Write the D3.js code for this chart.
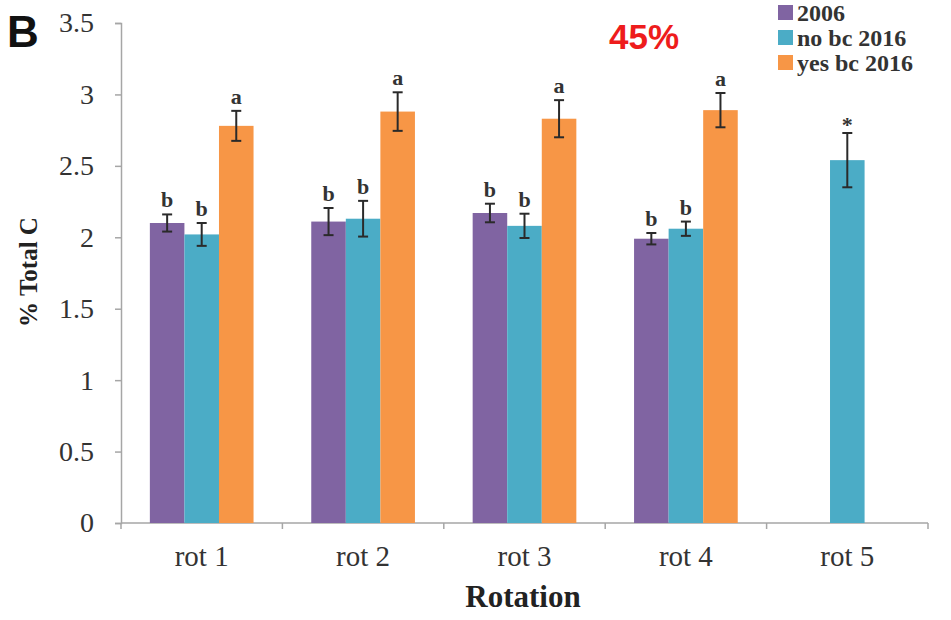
<!DOCTYPE html>
<html>
<head>
<meta charset="utf-8">
<script src="https://cdn.jsdelivr.net/npm/d3@7/dist/d3.min.js"></script>
<style>
  html, body { margin: 0; padding: 0; background: #ffffff; }
  svg { display: block; }
</style>
</head>
<body>
<svg id="chart" width="951" height="620"></svg>
<script>
// Rotation categories and series
const categories = ["rot 1", "rot 2", "rot 3", "rot 4", "rot 5"];
const seriesNames = ["2006", "no bc 2016", "yes bc 2016"];
const seriesColors = ["#8064A2", "#4BACC6", "#F79646"];

// Mean % total C (null = not measured)
const values2006   = [2.10, 2.11, 2.17, 1.99, null];
const valuesNoBc   = [2.02, 2.13, 2.08, 2.06, 2.54];
const valuesYesBc  = [2.78, 2.88, 2.83, 2.89, null];

// Standard errors
const err2006  = [0.06, 0.095, 0.065, 0.04, null];
const errNoBc  = [0.08, 0.125, 0.085, 0.05, 0.19];
const errYesBc = [0.105, 0.135, 0.13, 0.12, null];

// Significance letters
const sig2006  = ["b", "b", "b", "b", null];
const sigNoBc  = ["b", "b", "b", "b", "*"];
const sigYesBc = ["a", "a", "a", "a", null];

const yTicks = [0, 0.5, 1, 1.5, 2, 2.5, 3, 3.5];

const allValues = [values2006, valuesNoBc, valuesYesBc];
const allErrors = [err2006, errNoBc, errYesBc];
const allSig = [sig2006, sigNoBc, sigYesBc];

const svg = d3.select("#chart");
const margin = { left: 121, right: 23, top: 23, bottom: 97 };
const W = 951, H = 620;

const x = d3.scaleBand().domain(categories).range([margin.left, W - margin.right]).paddingInner(0).paddingOuter(0);
const y = d3.scaleLinear().domain([0, 3.5]).range([H - margin.bottom, margin.top]);
const inner = d3.scaleBand().domain(seriesNames).range([0, x.bandwidth()]).paddingInner(0).paddingOuter(0.835);

const serif = "'Liberation Serif', 'Times New Roman', serif";
const sans = "'Liberation Sans', Arial, sans-serif";
const axisColor = "#a6a6a6";

// Y axis
const yAxis = svg.append("g").attr("transform", `translate(${margin.left},0)`)
  .call(d3.axisLeft(y).tickValues(yTicks).tickSize(6).tickPadding(21).tickFormat(d3.format("")));
yAxis.select(".domain").attr("stroke", axisColor).attr("stroke-width", 1.5);
yAxis.selectAll(".tick line").attr("stroke", axisColor).attr("stroke-width", 1.5);
yAxis.selectAll(".tick text").attr("font-family", serif).attr("font-size", 28).attr("fill", "#333");

// X axis with ticks between categories
const xAxisG = svg.append("g").attr("transform", `translate(0,${y(0)})`);
xAxisG.append("line").attr("x1", margin.left).attr("x2", W - margin.right)
  .attr("stroke", axisColor).attr("stroke-width", 1.5);
const boundaries = categories.map(c => x(c)).concat([x(categories[categories.length - 1]) + x.bandwidth()]);
xAxisG.selectAll("line.tk").data(boundaries).join("line").attr("class", "tk")
  .attr("x1", d => d).attr("x2", d => d).attr("y1", 0).attr("y2", 6)
  .attr("stroke", axisColor).attr("stroke-width", 1.5);
xAxisG.selectAll("text").data(categories).join("text")
  .attr("x", d => x(d) + x.bandwidth() / 2).attr("y", 43)
  .attr("text-anchor", "middle").attr("font-family", serif).attr("font-size", 29).attr("fill", "#333")
  .text(d => d);

// Bars, error bars and letters
const barData = [];
seriesNames.forEach((s, si) => {
  categories.forEach((c, ci) => {
    const v = allValues[si][ci];
    if (v == null) return;
    // rot 5 has a single series, centred in its band
    const single = allValues.filter(arr => arr[ci] != null).length === 1;
    const xPos = single ? x(c) + (x.bandwidth() - inner.bandwidth()) / 2 : x(c) + inner(s);
    barData.push({ s, si, c, v, e: allErrors[si][ci], sig: allSig[si][ci], x0: xPos });
  });
});

const g = svg.append("g");
g.selectAll("rect").data(barData).join("rect")
  .attr("x", d => d.x0).attr("width", inner.bandwidth())
  .attr("y", d => y(d.v)).attr("height", d => y(0) - y(d.v))
  .attr("fill", d => seriesColors[d.si]);

const eb = g.selectAll("g.err").data(barData).join("g").attr("class", "err");
const cap = 5;
const cx = d => d.x0 + inner.bandwidth() / 2;
eb.append("line")
  .attr("x1", cx).attr("x2", cx)
  .attr("y1", d => y(d.v + d.e)).attr("y2", d => y(d.v - d.e));
eb.append("line")
  .attr("x1", d => cx(d) - cap).attr("x2", d => cx(d) + cap)
  .attr("y1", d => y(d.v + d.e)).attr("y2", d => y(d.v + d.e));
eb.append("line")
  .attr("x1", d => cx(d) - cap).attr("x2", d => cx(d) + cap)
  .attr("y1", d => y(d.v - d.e)).attr("y2", d => y(d.v - d.e));
eb.selectAll("line").attr("stroke", "#2a2a2a").attr("stroke-width", 2);

g.selectAll("text.sig").data(barData.filter(d => d.sig)).join("text").attr("class", "sig")
  .attr("x", cx)
  .attr("y", d => y(d.v + d.e) - (d.sig === "*" ? 1 : 7))
  .attr("text-anchor", "middle").attr("font-family", serif).attr("font-weight", "bold")
  .attr("font-size", 22).attr("fill", "#333")
  .text(d => d.sig);

// Axis titles
svg.append("text").attr("x", 523).attr("y", 607)
  .attr("text-anchor", "middle").attr("font-family", serif).attr("font-weight", "bold")
  .attr("font-size", 31).attr("fill", "#222").text("Rotation");
svg.append("text").attr("transform", "translate(37,272) rotate(-90)")
  .attr("text-anchor", "middle").attr("font-family", serif).attr("font-weight", "bold")
  .attr("font-size", 25).attr("fill", "#222").text("% Total C");

// Panel letter and annotation
svg.append("text").attr("x", 7).attr("y", 47)
  .attr("font-family", sans).attr("font-weight", "bold")
  .attr("font-size", 44).attr("fill", "#111").text("B");
svg.append("text").attr("x", 644).attr("y", 49).attr("text-anchor", "middle")
  .attr("font-family", sans).attr("font-weight", "bold")
  .attr("font-size", 35).attr("fill", "#ee1c1c").text("45%");

// Legend
const legend = svg.append("g").attr("transform", "translate(778,5)");
const li = legend.selectAll("g").data(seriesNames).join("g")
  .attr("transform", (d, i) => `translate(0,${i * 25})`);
li.append("rect").attr("x", 0).attr("y", 0).attr("width", 15).attr("height", 15)
  .attr("fill", (d, i) => seriesColors[i]);
li.append("text").attr("x", 19).attr("y", 16)
  .attr("font-family", serif).attr("font-weight", "bold").attr("font-size", 24).attr("fill", "#333")
  .text(d => d);
</script>
</body>
</html>
